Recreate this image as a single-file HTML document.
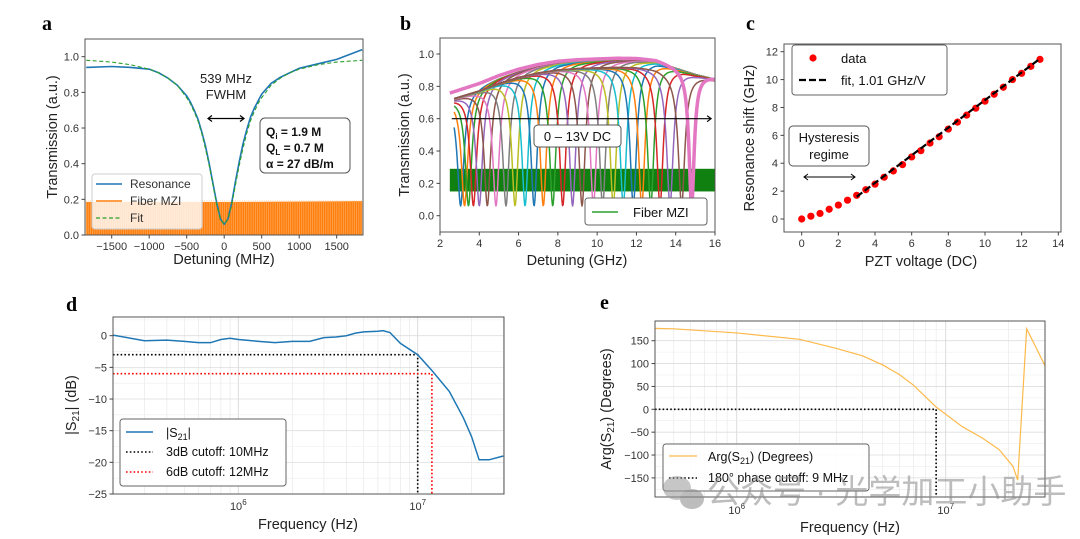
<!DOCTYPE html>
<html><head><meta charset="utf-8"><style>
body{margin:0;background:#fff}
svg{display:block;font-family:"Liberation Sans",sans-serif}
</style></head><body>
<svg id="fig" width="1080" height="539" viewBox="0 0 1080 539" xmlns="http://www.w3.org/2000/svg">
<defs>
<clipPath id="ca"><rect x="85" y="39" width="278" height="196"/></clipPath>
<clipPath id="cb"><rect x="440" y="38" width="275" height="194"/></clipPath>
<clipPath id="cc"><rect x="784" y="44" width="277" height="188"/></clipPath>
<clipPath id="cd"><rect x="113" y="317" width="391" height="177"/></clipPath>
<clipPath id="ce"><rect x="655" y="321" width="390" height="176"/></clipPath>
</defs>
</svg>
<script>
// ---- Panel a data ----
const aX=[-1840,-1500,-1250,-1000,-875,-750,-625,-500,-450,-400,-350,-300,-250,-200,-150,-100,-50,0,50,100,150,200,250,300,350,400,450,500,625,750,875,1000,1250,1500,1840];
const aRes=[0.94,0.945,0.94,0.93,0.91,0.88,0.84,0.78,0.745,0.70,0.65,0.58,0.50,0.40,0.29,0.18,0.09,0.06,0.09,0.18,0.30,0.41,0.51,0.59,0.66,0.71,0.75,0.79,0.85,0.885,0.91,0.935,0.96,0.985,1.04];
const aFit=[0.98,0.97,0.955,0.93,0.91,0.88,0.84,0.77,0.736,0.69,0.64,0.57,0.485,0.39,0.28,0.17,0.09,0.06,0.09,0.17,0.28,0.39,0.485,0.57,0.64,0.69,0.736,0.77,0.84,0.88,0.91,0.93,0.955,0.97,0.98];
const aMziX=[-1840,0,1840];
const aMziTop=[0.185,0.185,0.19];
const aXTicks=[-1500,-1000,-500,0,500,1000,1500];
const aYTicks=[0,0.2,0.4,0.6,0.8,1.0];
// ---- Panel b data ----
const bEnvX=[2.5,3,4,5,6,7,8,9,10,11,12,13,14,15,16];
const bEnvY=[0.77,0.79,0.83,0.88,0.92,0.95,0.97,0.98,0.985,0.99,0.99,0.98,0.94,0.90,0.87];
const bCenters=[3.05,3.25,3.45,3.7,4.0,4.41,4.85,5.36,5.82,6.33,6.79,7.26,7.74,8.25,8.75,9.23,9.81,10.28,10.82,11.33,11.84,12.27,12.73,13.2,13.71,14.3,14.81];
const bMziLow=0.15, bMziHigh=0.29;
const bXTicks=[2,4,6,8,10,12,14,16];
const bYTicks=[0,0.2,0.4,0.6,0.8,1.0];
// ---- Panel c data ----
const cV=[0,0.5,1,1.5,2,2.5,3,3.5,4,4.5,5,5.5,6,6.5,7,7.5,8,8.5,9,9.5,10,10.5,11,11.5,12,12.5,13];
const cShift=[0,0.2,0.4,0.7,1.0,1.35,1.7,2.1,2.5,3.0,3.45,3.9,4.45,4.9,5.45,5.9,6.45,6.95,7.45,7.95,8.45,8.95,9.45,10.0,10.45,10.95,11.45];
const cFitX=[3,13];
const cFitY=[1.6,11.5];
const cXTicks=[0,2,4,6,8,10,12,14];
const cYTicks=[0,2,4,6,8,10,12];
// ---- Panel d data ----
const dF=[2e5,3e5,4e5,5e5,6e5,7e5,8e5,9e5,1e6,1.3e6,1.6e6,2e6,2.5e6,3e6,3.5e6,4e6,4.5e6,5e6,6e6,6.4e6,7e6,8e6,1e7,1.2e7,1.5e7,1.8e7,2e7,2.2e7,2.5e7,3e7];
const dDB=[0.1,-0.8,-0.7,-0.9,-1.1,-1.1,-0.6,-0.4,-0.6,-0.9,-1.1,-0.9,-0.9,-0.3,-0.2,0,0.4,0.6,0.7,0.8,0.5,-1.2,-3,-5.5,-8.8,-13,-16,-19.6,-19.6,-19];
const dCut3=[1e7,-3], dCut6=[1.2e7,-6];
const dYTicks=[0,-5,-10,-15,-20,-25];
// ---- Panel e data ----
const eF=[4e5,5e5,1e6,2e6,3e6,4e6,5e6,6e6,7e6,9e6,1.2e7,1.5e7,1.8e7,2.1e7,2.21e7,2.44e7,2.99e7];
const eDeg=[177,176,167,153,133,117,97,76,53,5,-38,-63,-88,-125,-155,176,95];
const eCut=[9e6,0];
const eYTicks=[150,100,50,0,-50,-100,-150];

const NS="http://www.w3.org/2000/svg";
const svg=document.getElementById('fig');
function mk(tag,attrs,parent,text){const e=document.createElementNS(NS,tag);for(const k in attrs)e.setAttribute(k,attrs[k]);if(text!==undefined)e.textContent=text;(parent||svg).appendChild(e);return e;}
function lin(d0,d1,r0,r1){return v=>r0+(v-d0)*(r1-r0)/(d1-d0);}
function lg(d0,d1,r0,r1){return v=>r0+(Math.log10(v)-d0)*(r1-r0)/(d1-d0);}
function interp(xs,ys,x){if(x<=xs[0])return ys[0];for(let i=1;i<xs.length;i++){if(x<=xs[i]){const t=(x-xs[i-1])/(xs[i]-xs[i-1]);return ys[i-1]+t*(ys[i]-ys[i-1]);}}return ys[ys.length-1];}
function pathOf(xs,ys,sx,sy){return xs.map((x,i)=>(i?'L':'M')+sx(x).toFixed(2)+','+sy(ys[i]).toFixed(2)).join('');}
const fmt=v=>(v<0?'\u2212':'')+Math.abs(v);
function frame(x,y,w,h,name){const r=mk('rect',{x:x,y:y,width:w,height:h,fill:'none',stroke:'#555','stroke-width':1});}
function xtick(x,y,label,g){mk('line',{x1:x,y1:y,x2:x,y2:y+3.5,stroke:'#444'},g);const t=mk('text',{x:x,y:y+15,'font-size':11,'text-anchor':'middle',fill:'#333'},g,label);}
function ytick(x,y,label,g){mk('line',{x1:x,y1:y,x2:x-3.5,y2:y,stroke:'#444'},g);const t=mk('text',{x:x-6,y:y+4,'font-size':11,'text-anchor':'end',fill:'#333'},g,label);}
function title(x,y,txt,rot,name){const t=mk('text',{x:x,y:y,'font-size':14.5,'text-anchor':'middle',fill:'#222',transform:rot?`rotate(-90 ${x} ${y})`:''},svg,txt);return t;}
function letter(x,y,c){const t=mk('text',{x:x,y:y,'font-size':20,'font-weight':'bold','font-family':'"Liberation Serif",serif',fill:'#000'},svg,c);}

// ============ Panel a ============
(function(){
const sx=lin(-1500,1500,111.7,336.7), sy=lin(0,1,235,56.7);
const g=mk('g',{'clip-path':'url(#ca)'});


let mz='M'+sx(aMziX[0])+','+sy(0);aMziX.forEach((x,i)=>mz+='L'+sx(x)+','+sy(aMziTop[i]));mz+='L'+sx(aMziX[aMziX.length-1])+','+sy(0)+'Z';
const m=mk('path',{d:mz,fill:'#ff7f0e'},g);


for(let x=86;x<363;x+=2.2)mk('line',{x1:x,y1:200,x2:x,y2:235,stroke:'#ffc38a','stroke-width':0.6,opacity:0.7},g);
const r=mk('path',{d:pathOf(aX,aRes,sx,sy),fill:'none',stroke:'#1f77b4','stroke-width':1.6,'stroke-linejoin':'round'},g);


const f=mk('path',{d:pathOf(aX,aFit,sx,sy),fill:'none',stroke:'#2ca02c','stroke-width':1.1,'stroke-dasharray':'4,2.5'},g);


frame(85,39,278,196,'panel-a-frame');
const tg=mk('g',{});aXTicks.forEach(v=>xtick(sx(v),235,fmt(v),tg));aYTicks.forEach(v=>ytick(85,sy(v),v.toFixed(1),tg));
const lg_=mk('g',{});
mk('rect',{x:92,y:174,width:110,height:55,rx:3,fill:'#fff','fill-opacity':0.8,stroke:'#ccc'},lg_);
mk('line',{x1:96,y1:184,x2:122,y2:184,stroke:'#1f77b4','stroke-width':1.6},lg_);
mk('text',{x:130,y:188,'font-size':12,fill:'#333'},lg_,'Resonance');
mk('line',{x1:96,y1:201,x2:122,y2:201,stroke:'#ff7f0e','stroke-width':1.6},lg_);
mk('text',{x:130,y:205,'font-size':12,fill:'#333'},lg_,'Fiber MZI');
mk('line',{x1:96,y1:218,x2:122,y2:218,stroke:'#2ca02c','stroke-width':1.2,'stroke-dasharray':'4,2.5'},lg_);
mk('text',{x:130,y:222,'font-size':12,fill:'#333'},lg_,'Fit');
const a1=mk('text',{x:226,y:83,'font-size':13,'text-anchor':'middle',fill:'#222'},svg,'539 MHz');
const a2=mk('text',{x:226,y:99,'font-size':13,'text-anchor':'middle',fill:'#222'},svg,'FWHM');
const ar=mk('g',{stroke:'#000','stroke-width':1.2,fill:'none'});
mk('line',{x1:208,y1:118.5,x2:244,y2:118.5},ar);mk('path',{d:'M212,115.5L208,118.5L212,121.5M240,115.5L244,118.5L240,121.5'},ar);
const qb=mk('g',{});
mk('rect',{x:260,y:118,width:90,height:55,rx:5,fill:'#fff',stroke:'#555'},qb);
const t1=mk('text',{x:266,y:136,'font-size':12,'font-weight':'bold',fill:'#111'},qb);t1.innerHTML='Q<tspan font-size="8" dy="3">i</tspan><tspan dy="-3"> = 1.9 M</tspan>';
const t2=mk('text',{x:266,y:152,'font-size':12,'font-weight':'bold',fill:'#111'},qb);t2.innerHTML='Q<tspan font-size="8" dy="3">L</tspan><tspan dy="-3"> = 0.7 M</tspan>';
mk('text',{x:266,y:168,'font-size':12,'font-weight':'bold',fill:'#111'},qb,'\u03b1 = 27 dB/m');
title(224,264,'Detuning (MHz)',false,'panel-a-x-title');
title(57,137,'Transmission (a.u.)',true,'panel-a-y-title');
letter(42,30,'a');
})();

// ============ Panel b ============
(function(){
const sx=lin(2,16,440,715), sy=lin(0,1,215.7,54);
const g=mk('g',{'clip-path':'url(#cb)'});


const mz=mk('rect',{x:sx(2.5),y:sy(bMziHigh),width:sx(16)-sx(2.5),height:sy(bMziLow)-sy(bMziHigh),fill:'#108010'},g);


const tab=['#1f77b4','#ff7f0e','#2ca02c','#d62728','#9467bd','#8c564b','#e377c2','#7f7f7f','#bcbd22','#17becf'];
const last=bCenters.length-1;
bCenters.forEach((c,i)=>{
  const isLast=i===last, w=isLast?0.16:0.2;
  const xs=[],ys=[];
  for(let x=isLast?2.5:2.72;x<=16.01;x+=0.03){
    const b=interp(bEnvX,bEnvY,x)*(isLast?0.985:(x<c?0.93:0.97));
    const L=w*w/((x-c)*(x-c)+w*w);
    xs.push(x);ys.push(b-(b-0.06)*L);
  }
  const p=mk('path',{d:pathOf(xs,ys,sx,sy),fill:'none',stroke:tab[i%10],'stroke-width':isLast?3.5:1.5,'stroke-linejoin':'round'},g);
  
  
});
frame(440,38,275,194,'panel-b-frame');
const tg=mk('g',{});bXTicks.forEach(v=>xtick(sx(v),232,String(v),tg));bYTicks.forEach(v=>ytick(440,sy(v),v.toFixed(1),tg));
const ar=mk('g',{stroke:'#000','stroke-width':1.2,fill:'none'});
mk('line',{x1:sx(2.6),y1:sy(0.6),x2:sx(15.8),y2:sy(0.6)},ar);mk('path',{d:`M${sx(15.8)-4},${sy(0.6)-3}L${sx(15.8)},${sy(0.6)}L${sx(15.8)-4},${sy(0.6)+3}`},ar);
const vb=mk('g',{});
mk('rect',{x:534,y:125,width:87,height:22,rx:4,fill:'#fff',stroke:'#555'},vb);
mk('text',{x:577.5,y:141,'font-size':13,'text-anchor':'middle',fill:'#111'},vb,'0 \u2013 13V DC');
const lgb=mk('g',{});
mk('rect',{x:585,y:198,width:122,height:27,rx:3,fill:'#fff',stroke:'#666'},lgb);
mk('line',{x1:592,y1:212,x2:618,y2:212,stroke:'#2ca02c','stroke-width':1.4},lgb);
mk('text',{x:633,y:217,'font-size':13,fill:'#111'},lgb,'Fiber MZI');
title(577,265,'Detuning (GHz)',false,'panel-b-x-title');
title(409,135,'Transmission (a.u.)',true,'panel-b-y-title');
letter(400,30,'b');
})();

// ============ Panel c ============
(function(){
const sx=lin(0,14,801.7,1058.3), sy=lin(0,12,219,51.7);
const g=mk('g',{'clip-path':'url(#cc)'});


cV.forEach((v,i)=>{const c=mk('circle',{cx:sx(v),cy:sy(cShift[i]),r:3.6,fill:'#ff0000'},g);

});
const f=mk('line',{x1:sx(cFitX[0]),y1:sy(cFitY[0]),x2:sx(cFitX[1]),y2:sy(cFitY[1]),stroke:'#000','stroke-width':2.2,'stroke-dasharray':'7,3'},g);


frame(784,44,277,188,'panel-c-frame');
const tg=mk('g',{});cXTicks.forEach(v=>xtick(sx(v),232,String(v),tg));cYTicks.forEach(v=>ytick(784,sy(v),String(v),tg));
const lc=mk('g',{});
mk('rect',{x:792,y:45,width:155,height:50,rx:3,fill:'#fff',stroke:'#666'},lc);
mk('circle',{cx:813,cy:58,r:3.6,fill:'#ff0000'},lc);
mk('text',{x:841,y:63,'font-size':13,fill:'#111'},lc,'data');
mk('line',{x1:799,y1:80,x2:827,y2:80,stroke:'#000','stroke-width':2.2,'stroke-dasharray':'7,3'},lc);
mk('text',{x:841,y:85,'font-size':13,fill:'#111'},lc,'fit, 1.01 GHz/V');
const hb=mk('g',{});
mk('rect',{x:789,y:126,width:80,height:40,rx:4,fill:'#fff',stroke:'#555'},hb);
mk('text',{x:829,y:142,'font-size':13,'text-anchor':'middle',fill:'#111'},hb,'Hysteresis');
mk('text',{x:829,y:159,'font-size':13,'text-anchor':'middle',fill:'#111'},hb,'regime');
const ar=mk('g',{stroke:'#000','stroke-width':1,fill:'none'});
mk('line',{x1:804,y1:177,x2:855,y2:177},ar);mk('path',{d:'M808,174L804,177L808,180M851,174L855,177L851,180'},ar);
title(921,266,'PZT voltage (DC)',false,'panel-c-x-title');
title(754,138,'Resonance shift (GHz)',true,'panel-c-y-title');
letter(746,30,'c');
})();

function logGrid(g,sx,f0,f1,y0,y1){for(let e=5;e<=7;e++)for(let m=1;m<10;m++){const f=m*Math.pow(10,e);if(f<f0||f>f1)continue;mk('line',{x1:sx(f),y1:y0,x2:sx(f),y2:y1,stroke:m===1?'#d8d8d8':'#e6e6e6','stroke-width':m===1?0.9:0.6},g);}}
function sup(x,y,exp,g){const t=mk('text',{x:x,y:y,'font-size':11,'text-anchor':'middle',fill:'#333'},g);t.innerHTML='10<tspan font-size="8" dy="-5">'+exp+'</tspan>';}

// ============ Panel d ============
(function(){
const sx=lg(6,7,238.3,417.7), sy=lin(0,-25,335.7,494);
const g=mk('g',{'clip-path':'url(#cd)'});


logGrid(g,sx,2e5,3e7,317,494);
dYTicks.forEach(v=>mk('line',{x1:113,y1:sy(v),x2:504,y2:sy(v),stroke:'#ddd','stroke-width':0.8},g));
for(let v=-22.5;v<=2.5;v+=5)mk('line',{x1:113,y1:sy(v),x2:504,y2:sy(v),stroke:'#eee','stroke-width':0.6},g);
const c3=mk('path',{d:`M113,${sy(dCut3[1])}H${sx(dCut3[0])}V494`,fill:'none',stroke:'#000','stroke-width':1.6,'stroke-dasharray':'1.6,2.2'},g);


const c6=mk('path',{d:`M113,${sy(dCut6[1])}H${sx(dCut6[0])}V494`,fill:'none',stroke:'#ff0000','stroke-width':1.6,'stroke-dasharray':'1.6,2.2'},g);


const l=mk('path',{d:pathOf(dF,dDB,sx,sy),fill:'none',stroke:'#1f77b4','stroke-width':1.5},g);


frame(113,317,391,177,'panel-d-frame');
const tg=mk('g',{});dYTicks.forEach(v=>ytick(113,sy(v),fmt(v),tg));
sup(sx(1e6),510,'6',tg);sup(sx(1e7),510,'7',tg);
const ld=mk('g',{});
mk('rect',{x:120,y:419,width:166,height:67,rx:3,fill:'#fff',stroke:'#666'},ld);
mk('line',{x1:126,y1:432,x2:153,y2:432,stroke:'#1f77b4','stroke-width':1.5},ld);
const lt=mk('text',{x:166,y:437,'font-size':12.5,fill:'#111'},ld);lt.innerHTML='|S<tspan font-size="9" dy="3">21</tspan><tspan dy="-3">|</tspan>';
mk('line',{x1:126,y1:452,x2:153,y2:452,stroke:'#000','stroke-width':1.6,'stroke-dasharray':'1.6,2.2'},ld);
mk('text',{x:166,y:456,'font-size':12.5,fill:'#111'},ld,'3dB cutoff: 10MHz');
mk('line',{x1:126,y1:472,x2:153,y2:472,stroke:'#ff0000','stroke-width':1.6,'stroke-dasharray':'1.6,2.2'},ld);
mk('text',{x:166,y:476,'font-size':12.5,fill:'#111'},ld,'6dB cutoff: 12MHz');
title(308,529,'Frequency (Hz)',false,'panel-d-x-title');
const yt=title(76,405,'',true,'panel-d-y-title');yt.innerHTML='|S<tspan font-size="10" dy="3">21</tspan><tspan dy="-3">| (dB)</tspan>';
letter(66,311,'d');
})();

// ============ Panel e ============
(function(){
const sx=lg(6,7,736.7,945.7), sy=lin(0,150,409.3,340.7);
const g=mk('g',{'clip-path':'url(#ce)'});


logGrid(g,sx,4e5,3e7,321,497);
eYTicks.forEach(v=>mk('line',{x1:655,y1:sy(v),x2:1045,y2:sy(v),stroke:'#ddd','stroke-width':0.8},g));
for(let v=-175;v<=175;v+=50)mk('line',{x1:655,y1:sy(v),x2:1045,y2:sy(v),stroke:'#eee','stroke-width':0.6},g);
const c=mk('path',{d:`M655,${sy(eCut[1])}H${sx(eCut[0])}V497`,fill:'none',stroke:'#000','stroke-width':1.6,'stroke-dasharray':'1.6,2.2'},g);


const l=mk('path',{d:pathOf(eF,eDeg,sx,sy),fill:'none',stroke:'#fdb94a','stroke-width':1.2},g);


frame(655,321,390,176,'panel-e-frame');
const tg=mk('g',{});eYTicks.forEach(v=>ytick(655,sy(v),fmt(v),tg));
sup(sx(1e6),514,'6',tg);sup(sx(1e7),514,'7',tg);
const le=mk('g',{});
mk('rect',{x:663,y:444,width:206,height:47,rx:3,fill:'#fff','fill-opacity':0.85,stroke:'#666'},le);
mk('line',{x1:669,y1:456,x2:697,y2:456,stroke:'#fdb94a','stroke-width':1.2},le);
const lt=mk('text',{x:708,y:461,'font-size':12.5,fill:'#111'},le);lt.innerHTML='Arg(S<tspan font-size="9" dy="3">21</tspan><tspan dy="-3">) (Degrees)</tspan>';
mk('line',{x1:669,y1:478,x2:697,y2:478,stroke:'#000','stroke-width':1.6,'stroke-dasharray':'1.6,2.2'},le);
mk('text',{x:708,y:482,'font-size':12.5,fill:'#111'},le,'180\u00b0 phase cutoff: 9 MHz');
title(850,532,'Frequency (Hz)',false,'panel-e-x-title');
const yt=title(611,409,'',true,'panel-e-y-title');yt.innerHTML='Arg(S<tspan font-size="10" dy="3">21</tspan><tspan dy="-3">) (Degrees)</tspan>';
letter(600,309,'e');
const wm=mk('g',{opacity:0.55});
mk('ellipse',{cx:677,cy:488,rx:14,ry:12,fill:'#999'},wm);
mk('ellipse',{cx:692,cy:499,rx:12,ry:10,fill:'#888'},wm);
mk('text',{x:707,y:503,'font-size':33,fill:'#888','font-family':'"Liberation Sans","Noto Sans CJK SC",sans-serif'},wm,'公众号 · 光学加工小助手');
})();
</script>
</body></html>
